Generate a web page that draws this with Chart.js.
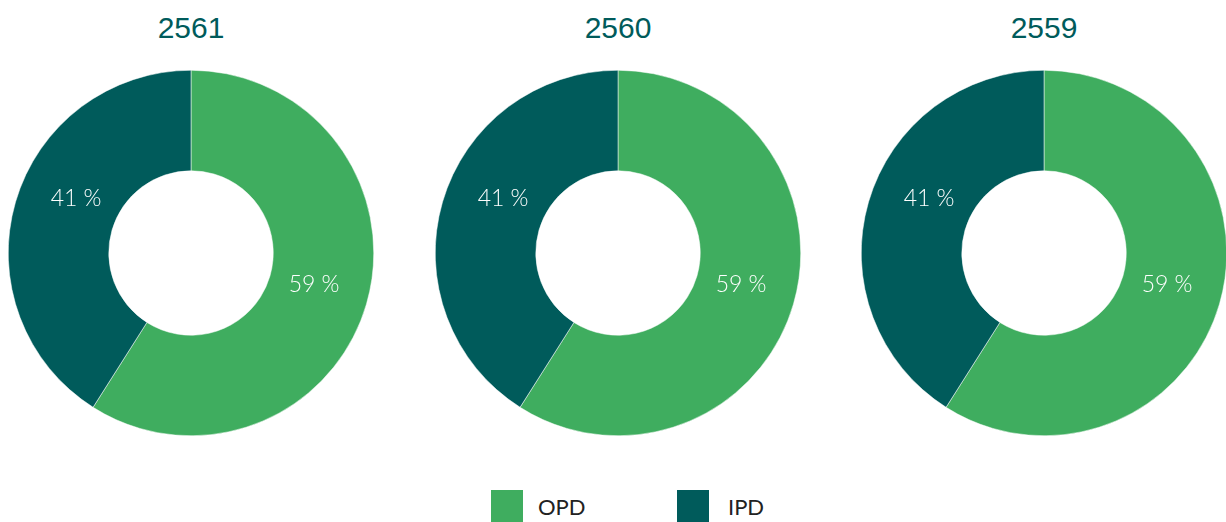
<!DOCTYPE html>
<html>
<head>
<meta charset="utf-8">
<script src="https://cdn.jsdelivr.net/npm/chart.js@4"></script>
<style>
  html, body { margin: 0; padding: 0; background: #fff; }
  body { width: 1226px; height: 522px; position: relative; overflow: hidden; font-family: "Lato", "Open Sans", sans-serif; }
  .title { position: absolute; top: 11px; width: 200px; text-align: center; font-family: "Liberation Sans", Arial, sans-serif; font-size: 30px; color: #005b5b; }
  .box { position: absolute; top: 70px; width: 366px; height: 366px; }
  .legend { position: absolute; top: 490px; left: 491px; display: flex; align-items: center; font-size: 22px; color: #222; }
  .sw { width: 32px; height: 32px; display: inline-block; }
</style>
</head>
<body>
<div id="charts"></div>
<div class="legend">
  <span class="sw" style="background:#3fad5f"></span><span style="margin-left:15px; width:139px">OPD</span>
  <span class="sw" style="background:#005b5b"></span><span style="margin-left:19px">IPD</span>
</div>
<script>
// --- Дані ---
const years = ['2561', '2560', '2559'];
const categories = ['OPD', 'IPD'];
const opdShare = [59, 59, 59];
const ipdShare = [41, 41, 41];
const colors = ['#3fad5f', '#005b5b'];
const centersX = [191, 618, 1044];
const labelShift = [-2, 9]; // зсув підпису по куту, градуси

// підписи відсотків всередині кільця
const pctLabels = {
    id: 'pctLabels',
    afterDatasetsDraw(chart) {
        const ctx = chart.ctx;
        const meta = chart.getDatasetMeta(0);
        ctx.save();
        ctx.fillStyle = '#ffffff';
        ctx.font = '300 23px Lato, "Open Sans", sans-serif';
        ctx.textAlign = 'center';
        ctx.textBaseline = 'middle';
        meta.data.forEach((arc, i) => {
            const mid = (arc.startAngle + arc.endAngle) / 2 + labelShift[i] * Math.PI / 180;
            const r = 127;
            const x = arc.x + Math.cos(mid) * r;
            const y = arc.y + Math.sin(mid) * r;
            ctx.fillText(chart.data.datasets[0].data[i] + ' %', x, y);
        });
        ctx.restore();
    }
};

const wrap = document.getElementById('charts');
years.forEach((year, i) => {
    const t = document.createElement('div');
    t.className = 'title';
    t.style.left = (centersX[i] - 100) + 'px';
    t.innerText = year;
    document.body.appendChild(t);

    const box = document.createElement('div');
    box.className = 'box';
    box.style.left = (centersX[i] - 183) + 'px';
    box.innerHTML = `<canvas id="c${i}" width="366" height="366"></canvas>`;
    wrap.appendChild(box);

    new Chart(document.getElementById('c' + i), {
        type: 'doughnut',
        data: { labels: categories, datasets: [{ data: [opdShare[i], ipdShare[i]], backgroundColor: colors, borderWidth: 0.5, borderColor: '#ffffff' }] },
        options: {
            responsive: false,
            animation: false,
            cutout: '45%',
            layout: { padding: 0 },
            plugins: { legend: { display: false }, tooltip: { enabled: false } }
        },
        plugins: [pctLabels]
    });
});
</script>
</body>
</html>
